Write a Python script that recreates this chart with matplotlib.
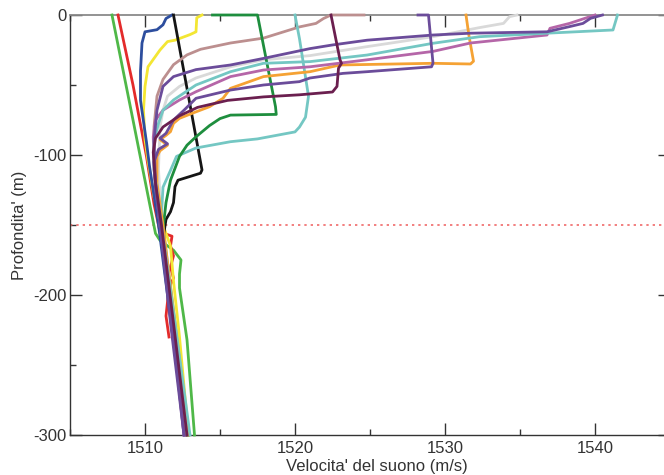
import matplotlib
matplotlib.use("Agg")
import matplotlib.pyplot as plt
from matplotlib.ticker import MultipleLocator

plt.rcParams['font.family'] = ['Liberation Sans', 'DejaVu Sans']

# Sound-speed profiles: speed (m/s) vs depth (m)
gray_c = [1534.8, 1534.3, 1533.9, 1532.3, 1529.2, 1524.8, 1521.0, 1517.9, 1515.7, 1513.4, 1512.3, 1511.5, 1511.2, 1511.0, 1510.9, 1511.1, 1511.8, 1512.7]
gray_z = [0, -1.2, -6, -9, -15.5, -22.6, -29, -32, -37, -45, -51, -58, -68, -80, -110, -150, -220, -300]

lgreen_c = [1507.8, 1509.2, 1510.7, 1511.0, 1511.9, 1512.4, 1512.3, 1512.3, 1512.8, 1513.3]
lgreen_z = [0, -75, -156, -161, -168, -175, -185, -195, -232, -300]

red_c = [1508.2, 1509.2, 1510.1, 1510.6, 1511.0, 1511.8, 1511.7, 1511.9, 1511.7, 1511.9, 1511.6, 1511.4, 1511.6]
red_z = [0, -50, -101, -135, -155, -158, -165, -172, -180, -188, -195, -215, -230]

yellow_c = [1513.8, 1513.45, 1513.4, 1513.0, 1512.0, 1511.5, 1511.0, 1510.2, 1510.0, 1509.9, 1510.0, 1510.2, 1510.6, 1511.2, 1511.7, 1511.9, 1512.3, 1512.9]
yellow_z = [0, -2, -12, -14, -18, -19, -25, -37, -51, -68, -89, -104, -130, -150, -165, -190, -230, -300]

blue_c = [1511.8, 1511.4, 1511.2, 1510.8, 1510.0, 1509.8, 1509.7, 1509.7, 1510.1, 1510.3, 1510.9, 1511.5, 1512.1, 1512.65]
blue_z = [0, -2.5, -7, -10.5, -12, -20, -40, -61, -91, -108, -150, -200, -250, -300]

black_c = [1511.9, 1513.8, 1513.7, 1512.2, 1512.0, 1511.9, 1511.7, 1511.4, 1511.2, 1511.7, 1512.2, 1512.8]
black_z = [0, -110.7, -113, -118, -122.6, -134, -140.5, -146, -160, -200, -250, -300]

rosy_c = [1524.6, 1522.4, 1521.9, 1521.4, 1520.3, 1517.9, 1515.7, 1513.7, 1512.8, 1511.9, 1511.2, 1510.8, 1510.6, 1510.6, 1511.0, 1511.9, 1512.7]
rosy_z = [0, 0, -2.5, -6, -8.5, -16.5, -20, -24.5, -28.5, -35.5, -46, -58, -80, -110, -150, -220, -300]

teal2_c = [1520.0, 1520.3, 1520.9, 1520.7, 1520.3, 1520.0, 1517.5, 1515.7, 1513.4, 1512.1, 1511.7, 1511.2, 1511.1, 1511.3, 1512.0, 1512.9]
teal2_z = [0, -17, -58, -73, -80, -83.5, -88.5, -90.5, -95, -101, -111, -123, -142, -160, -220, -300]

dgreen_c = [1514.5, 1517.5, 1518.7, 1518.75, 1515.7, 1515.0, 1514.3, 1513.4, 1512.8, 1512.3, 1511.7, 1511.4, 1511.2, 1511.7, 1512.3, 1512.9]
dgreen_z = [0, 0, -65.5, -71, -71.5, -74, -79, -87, -93, -101, -118, -134, -153, -200, -250, -300]

orange_c = [1531.4, 1531.6, 1531.9, 1531.7, 1529.2, 1523.0, 1521.0, 1517.9, 1515.7, 1515.2, 1514.3, 1513.2, 1512.3, 1511.9, 1511.7, 1511.4, 1511.0, 1511.5, 1511.0, 1510.8, 1510.8, 1511.2, 1512.0, 1512.9]
orange_z = [0, -15, -33, -35, -34.5, -35.7, -40.5, -44, -52.4, -59.5, -65.5, -70, -73.8, -77.4, -83.3, -86, -89, -93, -97, -101, -120, -150, -220, -300]

pink_c = [1540.0, 1538.3, 1537.0, 1536.8, 1531.7, 1529.2, 1524.8, 1521.0, 1517.9, 1515.7, 1513.4, 1512.3, 1511.2, 1510.7, 1510.55, 1510.6, 1511.0, 1511.8, 1512.6]
pink_z = [0, -6, -9.5, -14.3, -20, -26, -32, -37, -39.3, -44, -54.8, -60.7, -68, -75, -87, -110, -150, -220, -300]

teal1_c = [1541.5, 1541.4, 1541.2, 1536.8, 1532.3, 1529.2, 1524.8, 1521.0, 1517.9, 1515.7, 1513.4, 1511.9, 1511.2, 1510.9, 1510.6, 1510.6, 1511.1, 1512.0, 1513.0]
teal1_z = [0, -3.6, -10.7, -13, -15.5, -20.2, -28.6, -33.3, -34.5, -40.5, -50, -60.7, -68, -77.4, -90, -110, -150, -220, -300]

purple1_c = [1540.5, 1539.7, 1539.2, 1538.3, 1536.8, 1531.7, 1529.2, 1524.8, 1522.5, 1521.0, 1517.9, 1515.7, 1513.4, 1511.9, 1511.2, 1510.8, 1510.6, 1510.7, 1511.0, 1511.8, 1512.6]
purple1_z = [0, -2.4, -6, -8.3, -12, -13, -14.3, -18, -21.4, -24, -31, -35.7, -39, -44, -51, -68, -90, -120, -150, -220, -300]

purple2_c = [1528.2, 1528.9, 1529.2, 1529.1, 1524.8, 1523.2, 1521.0, 1520.3, 1517.9, 1515.7, 1513.4, 1512.6, 1511.9, 1511.4, 1511.0, 1511.5, 1510.9, 1510.6, 1510.7, 1511.0, 1511.7, 1512.6]
purple2_z = [0, 0, -34.5, -37, -40.5, -41.7, -45, -47.6, -50, -53.6, -59.5, -68, -75, -84.5, -88, -92, -96, -105, -125, -150, -220, -300]

maroon_c = [1522.4, 1523.0, 1523.1, 1522.9, 1522.8, 1522.5, 1520.3, 1517.9, 1515.5, 1513.5, 1512.3, 1511.2, 1510.7, 1510.55, 1510.7, 1511.1, 1511.9, 1512.8]
maroon_z = [0, -32, -34.5, -38, -51, -55, -57, -58.5, -61, -66, -72, -80, -88, -98, -120, -150, -220, -300]

reference_depth = -150

profiles = [
    (gray_c, gray_z, '#d9d9d9'),
    (lgreen_c, lgreen_z, '#4fb848'),
    (red_c, red_z, '#e32b2b'),
    (yellow_c, yellow_z, '#f3e633'),
    (blue_c, blue_z, '#2d4e9e'),
    (black_c, black_z, '#151515'),
    (rosy_c, rosy_z, '#bc8f8f'),
    (teal2_c, teal2_z, '#74c7c3'),
    (dgreen_c, dgreen_z, '#1e8e3e'),
    (orange_c, orange_z, '#f5a234'),
    (pink_c, pink_z, '#b566a8'),
    (teal1_c, teal1_z, '#74c7c3'),
    (purple1_c, purple1_z, '#6b4c9a'),
    (purple2_c, purple2_z, '#6b4c9a'),
    (maroon_c, maroon_z, '#6b1f4f'),
]

W, H = 664, 475
fig = plt.figure(figsize=(W / 100, H / 100), dpi=100)
ax = fig.add_axes([70 / W, 40 / H, 600 / W, 420 / H])

for c, z, col in profiles:
    ax.plot(c, z, color=col, lw=2.0, solid_joinstyle='round', clip_on=False, zorder=3)

ax.axhline(reference_depth, color='#f06a6a', lw=1.2, ls=(0, (1.4, 2.4)), zorder=2)

ax.set_xlim(1505, 1545)
ax.set_ylim(-300, 0)
ax.xaxis.set_minor_locator(MultipleLocator(5))
ax.yaxis.set_minor_locator(MultipleLocator(50))
ax.set_xticks([1510, 1520, 1530, 1540])
ax.set_yticks([0, -100, -200, -300])
ax.set_yticklabels(['0', '-100', '-200', '-300'])

ax.tick_params(which='major', direction='in', length=8.5, width=1.0, color='#333333',
               top=True, right=True, labelsize=12, labelcolor='#333333')
ax.tick_params(which='minor', direction='in', length=4.3, width=1.0, color='#333333',
               top=True, right=True)
ax.tick_params(axis='x', which='major', pad=4.5)
ax.tick_params(axis='y', which='major', pad=2.5)

for s in ['left', 'bottom']:
    ax.spines[s].set_color('#333333')
    ax.spines[s].set_linewidth(1.0)
ax.spines['top'].set_color('#8a8a8a')
ax.spines['top'].set_linewidth(1.3)
ax.spines['right'].set_color('#333333')

ax.set_xlabel("Velocita' del suono (m/s)", fontsize=12, color='#333333')
ax.xaxis.set_label_coords(307 / 600, -36 / 420)
ax.xaxis.label.set_va('baseline')
ax.set_ylabel("Profondita' (m)", fontsize=12, color='#333333')
ax.yaxis.set_label_coords(-43 / 600, 0.5)

fig.savefig('out.png', dpi=100)
